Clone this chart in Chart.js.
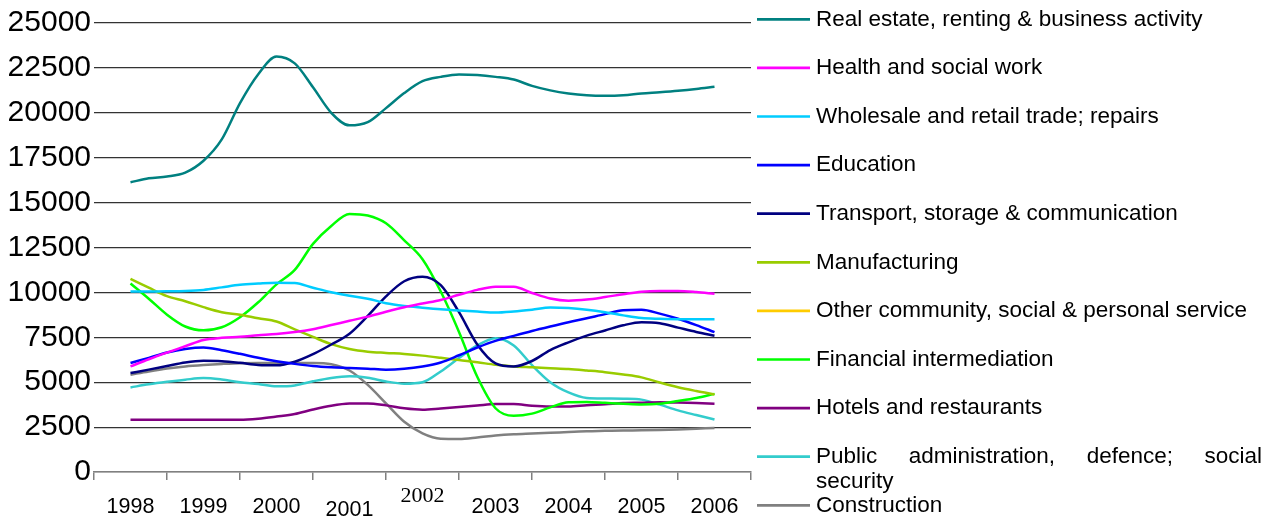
<!DOCTYPE html>
<html>
<head>
<meta charset="utf-8">
<script src="https://cdn.jsdelivr.net/npm/chart.js@4/dist/chart.umd.min.js"></script>
<style>
html,body{margin:0;padding:0;background:#fff;}
canvas{display:block;}
</style>
</head>
<body>
<canvas id="c" width="1269" height="520"></canvas>
<script>
const years = ['1998','1999','2000','2001','2002','2003','2004','2005','2006'];
const quarters = [1998,1998.25,1998.5,1998.75,1999,1999.25,1999.5,1999.75,2000,2000.25,2000.5,2000.75,2001,2001.25,2001.5,2001.75,2002,2002.25,2002.5,2002.75,2003,2003.25,2003.5,2003.75,2004,2004.25,2004.5,2004.75,2005,2005.25,2005.5,2005.75,2006];
const yTicks = [0,2500,5000,7500,10000,12500,15000,17500,20000,22500,25000];

const seriesNames = [
  'Real estate, renting & business activity',
  'Health and social work',
  'Wholesale and retail trade; repairs',
  'Education',
  'Transport, storage & communication',
  'Manufacturing',
  'Other community, social & personal service',
  'Financial intermediation',
  'Hotels and restaurants',
  'Public administration, defence; social security',
  'Construction'
];
const seriesColors = ['#008080','#FF00FF','#00CCFF','#0000FF','#000080','#99CC00','#FFCC00','#00FF00','#800080','#33CCCC','#808080'];

const realEstate = [16130,16350,16450,16670,17330,18520,20540,22150,23130,22750,21420,20000,19300,19480,20260,21100,21760,22000,22130,22100,22000,21850,21500,21250,21080,20980,20950,20980,21080,21150,21230,21330,21450];
const health = [5880,6280,6650,7000,7350,7470,7530,7610,7680,7790,7950,8180,8420,8650,8920,9170,9380,9580,9870,10140,10310,10320,9970,9660,9540,9600,9740,9900,10040,10080,10080,10020,9920];
const wholesale = [10050,10050,10060,10080,10140,10280,10420,10490,10540,10520,10260,10010,9810,9650,9400,9250,9150,9060,8990,8930,8880,8940,9040,9160,9130,9040,8900,8720,8570,8530,8510,8510,8510];
const education = [6070,6350,6650,6850,6930,6780,6580,6360,6170,6020,5900,5830,5790,5750,5700,5750,5880,6100,6500,6930,7300,7580,7850,8100,8340,8560,8790,9000,9030,8820,8530,8180,7790];
const transport = [5510,5700,5900,6100,6190,6170,6080,5960,5940,6140,6560,7100,7700,8690,9780,10620,10870,10400,8900,7100,6050,5880,6180,6790,7220,7590,7880,8170,8340,8280,8040,7800,7590];
const manufacturing = [10750,10260,9790,9510,9180,8900,8760,8560,8380,7940,7520,7120,6850,6700,6630,6570,6480,6360,6230,6110,5970,5880,5830,5780,5730,5650,5560,5430,5270,4980,4720,4510,4320];
const otherCommunity = [];
const financial = [10500,9650,8760,8100,7890,8060,8620,9450,10450,11250,12700,13700,14370,14280,13850,12900,11850,10050,7800,5300,3550,3130,3250,3600,3880,3900,3850,3800,3760,3800,3950,4120,4350];
const hotels = [2910,2910,2910,2910,2910,2910,2910,2970,3090,3230,3480,3690,3810,3820,3710,3550,3470,3540,3620,3700,3780,3780,3690,3650,3650,3720,3770,3840,3860,3890,3870,3840,3800];
const publicAdmin = [4710,4880,5020,5140,5230,5150,5000,4900,4770,4820,5050,5240,5330,5250,5040,4920,5000,5600,6350,7050,7450,7050,5950,5000,4430,4120,4090,4080,4030,3750,3430,3170,2920];
const construction = [5420,5600,5760,5880,5960,6020,6060,6065,6065,6065,6065,6000,5650,4850,3820,2800,2150,1850,1840,1920,2030,2100,2140,2180,2230,2270,2290,2310,2320,2340,2370,2410,2450];

const seriesValues = [realEstate, health, wholesale, education, transport, manufacturing, otherCommunity, financial, hotels, publicAdmin, construction];

const FONT = "'Liberation Sans', Arial, sans-serif";
Chart.defaults.font.family = FONT;

const sideLegend = {
  id: 'sideLegend',
  afterDraw(chart) {
    const ctx = chart.ctx;
    const area = chart.chartArea;
    const lineX0 = area.right + 6, lineX1 = area.right + 59, textX = area.right + 65, textRight = 1262;
    const top = 19.3, step = 48.6, lh = 25;
    ctx.save();
    ctx.font = "22.5px " + FONT;
    ctx.textBaseline = 'middle';
    ctx.textAlign = 'left';
    ctx.fillStyle = '#000';
    const maxW = textRight - textX;
    seriesNames.forEach((name, i) => {
      const y = top + step * i;
      ctx.strokeStyle = seriesColors[i];
      ctx.lineWidth = 2.7;
      ctx.beginPath(); ctx.moveTo(lineX0, y); ctx.lineTo(lineX1, y); ctx.stroke();
      const words = name.split(' ');
      const lines = []; let cur = [];
      words.forEach(w => {
        const test = cur.concat(w).join(' ');
        if (cur.length && ctx.measureText(test).width > maxW) { lines.push(cur); cur = [w]; }
        else cur.push(w);
      });
      lines.push(cur);
      lines.forEach((ws, li) => {
        const ly = y + li * lh;
        if (li < lines.length - 1 && ws.length > 1) {
          const total = ws.reduce((s, w) => s + ctx.measureText(w).width, 0);
          const gap = (maxW - total) / (ws.length - 1);
          let x = textX;
          ws.forEach(w => { ctx.fillText(w, x, ly); x += ctx.measureText(w).width + gap; });
        } else {
          ctx.fillText(ws.join(' '), textX, ly);
        }
      });
    });
    ctx.restore();
  }
};

const datasets = seriesNames.map((name, i) => ({
  label: name,
  data: seriesValues[i].map((v, j) => ({ x: quarters[j], y: v })),
  xAxisID: 'x2',
  yAxisID: 'y',
  borderColor: seriesColors[i],
  backgroundColor: seriesColors[i],
  borderWidth: 2.5,
  pointRadius: 0,
  fill: false,
  cubicInterpolationMode: 'monotone'
}));

new Chart(document.getElementById('c'), {
  type: 'line',
  data: { datasets },
  options: {
    responsive: false,
    animation: false,
    layout: { padding: { left: 0, right: 518, top: 23, bottom: 0 } },
    plugins: { legend: { display: false }, tooltip: { enabled: false } },
    scales: {
      x: {
        type: 'category',
        labels: years,
        position: 'bottom',
        offset: true,
        grid: { offset: true, drawOnChartArea: false, drawTicks: true, tickLength: 8, color: '#808080', lineWidth: 1.5 },
        border: { display: true, color: '#808080', width: 1.5 },
        ticks: {
          color: '#000',
          padding: 14,
          autoSkip: false,
          maxRotation: 0,
          font: (c) => {
            const lbl = years[c.index];
            if (lbl === '2002') return { family: "'Liberation Serif', 'Times New Roman', serif", size: 22, lineHeight: 0.22 };
            if (lbl === '2001') return { family: FONT, size: 21.5, lineHeight: 1.52 };
            return { family: FONT, size: 21.5, lineHeight: 1.2 };
          }
        },
        afterFit(s) { s.height = 48; }
      },
      x2: { type: 'linear', display: false, min: 1997.5, max: 2006.5 },
      y: {
        type: 'linear',
        position: 'left',
        min: 0,
        max: 25000,
        afterBuildTicks(s) { s.ticks = yTicks.map(v => ({ value: v })); },
        afterFit(s) { s.width = 94; },
        grid: { color: (c) => (c.tick && c.tick.value === 0 ? '#808080' : '#333333'), lineWidth: 1.2, drawTicks: false },
        border: { display: false },
        ticks: { color: '#000', padding: 3, font: { size: 30 }, callback: (v) => String(v) }
      }
    }
  },
  plugins: [sideLegend]
});
</script>
</body>
</html>
